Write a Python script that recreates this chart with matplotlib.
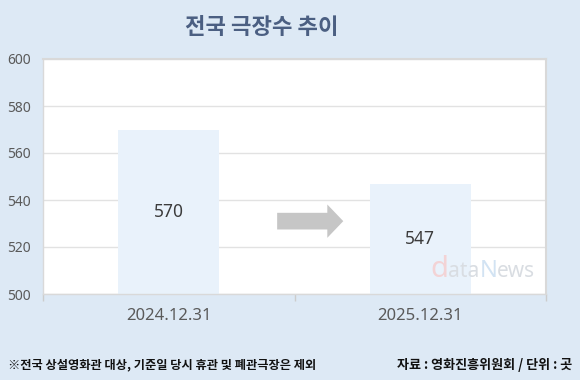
import matplotlib
matplotlib.use("Agg")
import matplotlib.pyplot as plt

plt.rcParams['font.family'] = ['Noto Sans', 'Noto Sans CJK KR', 'DejaVu Sans']

# data
dates = ["2024.12.31", "2025.12.31"]
theaters = [570, 547]
yticks = [500, 520, 540, 560, 580, 600]

title = "전국 극장수 추이"
note_left = "※전국 상설영화관 대상, 기준일 당시 휴관 및 폐관극장은 제외"
note_right = "자료 : 영화진흥위원회 / 단위 : 곳"

bg = "#dde9f5"
bar_color = "#e9f2fb"
grid_color = "#e2e2e2"

W, H = 580, 380
fig = plt.figure(figsize=(W / 100, H / 100), dpi=100, facecolor=bg)
ax = fig.add_axes([43 / W, 1 - 294 / H, 503 / W, 235 / H])
ax.set_facecolor("white")

x = list(range(len(dates)))
ax.bar(x, theaters, width=0.4, color=bar_color, zorder=2)

# value labels in the middle of each bar
for xi, v in zip(x, theaters):
    ax.text(xi, (yticks[0] + v) / 2, str(v), ha="center", va="center",
            fontsize=12.5, color="#3c3c3c", zorder=3)

ax.set_xlim(-0.5, len(dates) - 0.5)
ax.set_ylim(yticks[0], yticks[-1])
ax.set_yticks(yticks)
ax.set_yticklabels([str(t) for t in yticks])
ax.set_xticks(x)
ax.set_xticklabels(dates)
ax.set_xticks([i - 0.5 for i in range(len(dates) + 1)], minor=True)

ax.tick_params(axis="y", length=0, pad=9, labelsize=10, labelcolor="#5a5a5a")
ax.tick_params(axis="x", which="major", length=0, pad=10, labelsize=12,
               labelcolor="#5a5a5a")
ax.tick_params(axis="x", which="minor", length=5, width=1, color="#cccccc")

ax.yaxis.grid(True, color=grid_color, linewidth=1, zorder=0)
ax.set_axisbelow(True)
for s in ax.spines.values():
    s.set_color("#d9d9d9")
    s.set_linewidth(1.5)
ax.spines["left"].set_linewidth(1)
ax.spines["bottom"].set_linewidth(1)

# arrow between the bars
ax.annotate("", xy=(0.705, 531), xytext=(0.42, 531),
            arrowprops=dict(arrowstyle="simple,head_length=11.5,head_width=24,tail_width=12",
                            mutation_scale=1, color="#c6c6c6", lw=0),
            zorder=3)

# title
fig.text(262 / W, 1 - 27 / H, title, ha="center", va="center", fontsize=16,
         fontweight="bold", color="#4b5f82", family=["Noto Sans CJK KR"])

# watermark, laid out piece after piece
wm = [("d", "#f3d3d5", "bold", 21), ("ata", "#d9dde2", "normal", 15),
      ("N", "#d2e3f3", "bold", 17), ("ews", "#d9dde2", "normal", 15)]
renderer = fig.canvas.get_renderer()
px = 430
for txt, c, w, fs in wm:
    t = fig.text(px / W, 1 - 277 / H, txt, ha="left", va="baseline", fontsize=fs,
                 color=c, fontweight=w, zorder=4)
    px += t.get_window_extent(renderer).width

# footer
fig.text(8 / W, 1 - 365 / H, note_left, ha="left", va="center", fontsize=8.8,
         fontweight="bold", color="#111111", family=["Noto Sans CJK KR", "DejaVu Sans"])
fig.text(572 / W, 1 - 365 / H, note_right, ha="right", va="center", fontsize=9.4,
         fontweight="bold", color="#111111", family=["Noto Sans CJK KR", "DejaVu Sans"])

fig.savefig("out.png", dpi=100, facecolor=bg)
